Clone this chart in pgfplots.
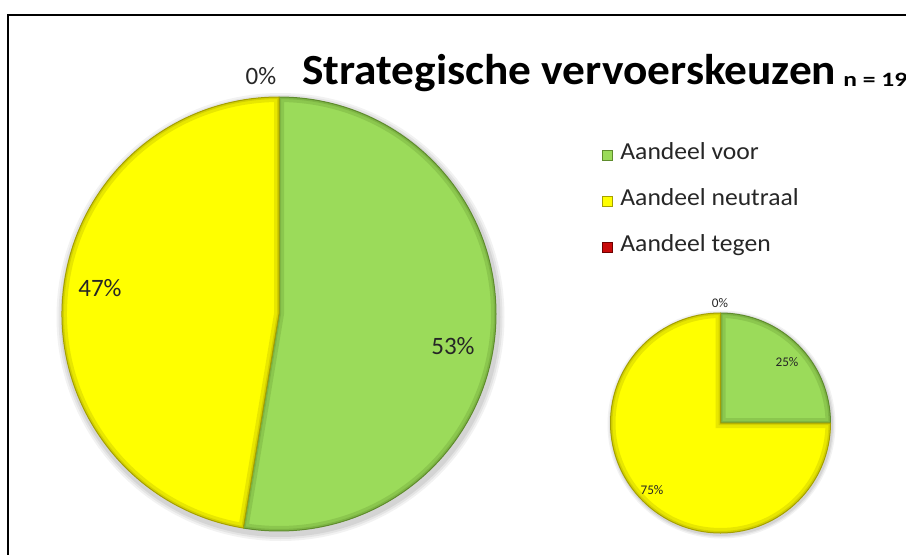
\documentclass[border=0pt]{standalone}
\usepackage{pgfplots}
\pgfplotsset{compat=1.18}
\usepackage{pgfplotstable}
\usepackage{fontspec}
\setmainfont{Carlito}

\definecolor{cgreen}{RGB}{155,219,90}
\definecolor{cgreenD}{RGB}{95,140,45}
\definecolor{cyellow}{RGB}{255,255,0}
\definecolor{cyellowD}{RGB}{165,160,0}
\definecolor{cred}{RGB}{200,10,10}
\definecolor{credD}{RGB}{110,0,0}

% value = number of answers (n = 19) / share in percent
\pgfplotstableread{
cat value
voor 10
neutraal 9
tegen 0
}\bigdata
\pgfplotstableread{
cat value
voor 25
neutraal 75
tegen 0
}\smalldata

\newcommand\pieangles[2]{% table, prefix
  \pgfplotstablegetelem{0}{value}\of#1\edef\tmpA{\pgfplotsretval}%
  \pgfplotstablegetelem{1}{value}\of#1\edef\tmpB{\pgfplotsretval}%
  \pgfplotstablegetelem{2}{value}\of#1\edef\tmpC{\pgfplotsretval}%
  \pgfmathsetmacro\tmpT{\tmpA+\tmpB+\tmpC}%
  \pgfmathsetmacro\tmpa{90-360*(\tmpA/\tmpT)}%
  \pgfmathsetmacro\tmpb{90-360*((\tmpA+\tmpB)/\tmpT)}%
  \expandafter\global\expandafter\let\csname #2one\endcsname\tmpa
  \expandafter\global\expandafter\let\csname #2two\endcsname\tmpb
}
\pieangles{\bigdata}{big}
\pieangles{\smalldata}{sml}

% pie slice: cx, cy, radius(pt), start, end, fill, dark
\newcommand\pieslice[7]{%
  \fill[#6] (axis cs:#1,#2) -- ++(#4:#3) arc[start angle=#4, end angle=#5, radius=#3] -- cycle;
  \begin{scope}
    \clip (axis cs:#1,#2) -- ++(#4:#3) arc[start angle=#4, end angle=#5, radius=#3] -- cycle;
    \draw[#7, line width=5pt, opacity=0.25] (axis cs:#1,#2) -- ++(#4:#3) arc[start angle=#4, end angle=#5, radius=#3] -- cycle;
    \draw[#7, line width=2pt, opacity=0.3] (axis cs:#1,#2) -- ++(#4:#3) arc[start angle=#4, end angle=#5, radius=#3] -- cycle;
  \end{scope}
  \draw[#7, line width=0.5pt, line join=round] (axis cs:#1,#2) -- ++(#4:#3) arc[start angle=#4, end angle=#5, radius=#3] -- cycle;
}

\begin{document}
\begin{tikzpicture}
\useasboundingbox (0,0) rectangle (453pt,277pt);
\begin{axis}[at={(0,0)}, anchor=south west, scale only axis,
  width=453pt, height=277pt, xmin=0, xmax=906, ymin=0, ymax=554,
  hide axis, clip=false]
  % frame
  \draw[black, line width=1pt] (axis cs:8,-5) -- (axis cs:8,539) -- (axis cs:920,539);
  % shadows
  \fill[black, opacity=0.05] (axis cs:280.5,237) circle[radius=112pt];
  \fill[black, opacity=0.06] (axis cs:280.5,237) circle[radius=111pt];
  \fill[black, opacity=0.07] (axis cs:280.5,237) circle[radius=110pt];
  \fill[black, opacity=0.05] (axis cs:721.5,129.5) circle[radius=57pt];
  \fill[black, opacity=0.06] (axis cs:721.5,129.5) circle[radius=56.3pt];
  \fill[black, opacity=0.07] (axis cs:721.5,129.5) circle[radius=55.7pt];
  % big pie
  \pieslice{279}{240}{108.5pt}{90}{\bigone}{cgreen}{cgreenD}
  \pieslice{279}{240}{108.5pt}{\bigone}{\bigtwo}{cyellow}{cyellowD}
  % small pie
  \pieslice{720.5}{131}{55pt}{90}{\smlone}{cgreen}{cgreenD}
  \pieslice{720.5}{131}{55pt}{\smlone}{\smltwo}{cyellow}{cyellowD}
  % labels big
  \node[font=\fontsize{12.5}{14}\selectfont, text=black!85] at (axis cs:261,478) {0\%};
  \node[font=\fontsize{12.5}{14}\selectfont, text=black!85] at (axis cs:100,266) {47\%};
  \node[font=\fontsize{12.5}{14}\selectfont, text=black!85] at (axis cs:453,208) {53\%};
  % labels small
  \node[font=\fontsize{6.6}{8}\selectfont, text=black!85] at (axis cs:720,250.5) {0\%};
  \node[font=\fontsize{6.6}{8}\selectfont, text=black!85] at (axis cs:787,192) {25\%};
  \node[font=\fontsize{6.6}{8}\selectfont, text=black!85] at (axis cs:652,64) {75\%};
  % title
  \node[anchor=base west, inner sep=0pt, font=\fontsize{21.5}{24}\selectfont\bfseries] at (axis cs:302,470) {\scalebox{1.055}[1]{Strategische vervoerskeuzen}};
  \node[anchor=base west, inner sep=0pt, font=\fontsize{10.2}{12}\selectfont\bfseries] at (axis cs:843,468) {\scalebox{1.25}[1]{n = 19}};
  % legend
  \filldraw[fill=cgreen, draw=cgreenD, line width=0.4pt] (axis cs:602,394) rectangle (axis cs:612,404);
  \filldraw[fill=cyellow, draw=cyellowD, line width=0.4pt] (axis cs:602,348) rectangle (axis cs:612,358);
  \filldraw[fill=cred, draw=credD, line width=0.4pt] (axis cs:602,302) rectangle (axis cs:612,312);
  \node[anchor=base west, inner sep=0pt, font=\fontsize{12.2}{14}\selectfont, text=black!85] at (axis cs:620,395) {\scalebox{1.05}[1]{Aandeel voor}};
  \node[anchor=base west, inner sep=0pt, font=\fontsize{12.2}{14}\selectfont, text=black!85] at (axis cs:620,349) {\scalebox{1.05}[1]{Aandeel neutraal}};
  \node[anchor=base west, inner sep=0pt, font=\fontsize{12.2}{14}\selectfont, text=black!85] at (axis cs:620,303) {\scalebox{1.05}[1]{Aandeel tegen}};
\end{axis}
\end{tikzpicture}
\end{document}
